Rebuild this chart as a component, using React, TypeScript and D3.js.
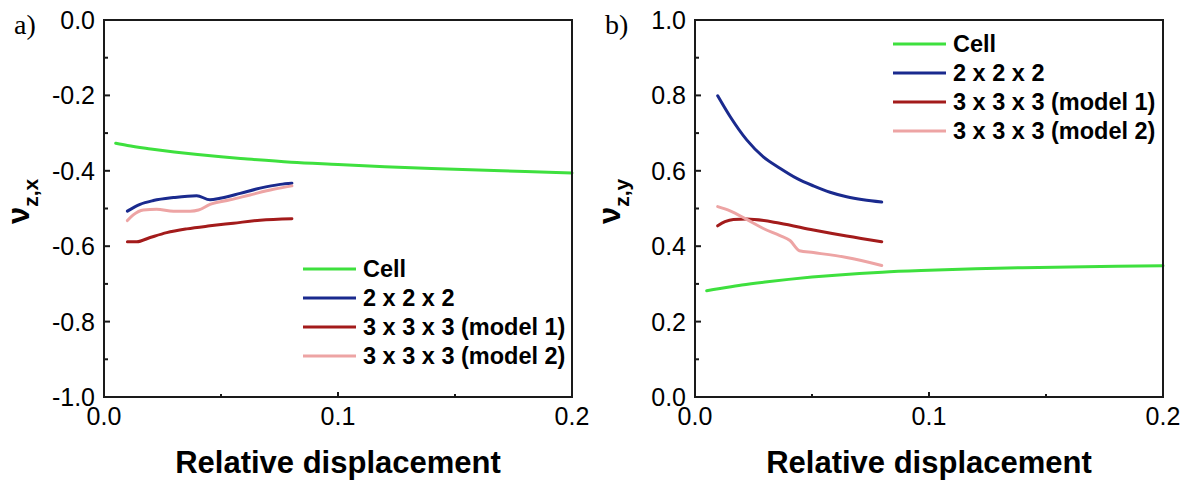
import React from 'react';
import * as d3 from 'd3';

// series: [relative displacement, poisson ratio]
const seriesNames = ['Cell', '2 x 2 x 2', '3 x 3 x 3 (model 1)', '3 x 3 x 3 (model 2)'];
const seriesColors = ['#3ee03e', '#1a2a8e', '#a31b1b', '#eda4a4'];

const cellZX: [number, number][] = [
  [0.005, -0.327], [0.01, -0.333], [0.02, -0.342], [0.03, -0.350], [0.04, -0.357],
  [0.05, -0.363], [0.06, -0.368], [0.08, -0.377], [0.1, -0.383], [0.12, -0.389],
  [0.14, -0.394], [0.16, -0.398], [0.18, -0.402], [0.2, -0.406],
];
const cube2ZX: [number, number][] = [
  [0.010, -0.507], [0.0154, -0.489], [0.0211, -0.479], [0.0297, -0.471], [0.0396, -0.466],
  [0.0453, -0.477], [0.0496, -0.473], [0.0582, -0.460], [0.0667, -0.446], [0.0753, -0.436],
  [0.0803, -0.433],
];
const cube3m1ZX: [number, number][] = [
  [0.010, -0.588], [0.014, -0.588], [0.0197, -0.577], [0.0268, -0.564], [0.0354, -0.554],
  [0.0453, -0.546], [0.0553, -0.539], [0.0667, -0.531], [0.0803, -0.527],
];
const cube3m2ZX: [number, number][] = [
  [0.010, -0.532], [0.0125, -0.517], [0.0168, -0.504], [0.0225, -0.502], [0.0297, -0.507],
  [0.0368, -0.507], [0.0404, -0.504], [0.0453, -0.489], [0.0539, -0.477], [0.0624, -0.464],
  [0.0724, -0.449], [0.0803, -0.440],
];

const cellZY: [number, number][] = [
  [0.005, 0.282], [0.01, 0.287], [0.02, 0.297], [0.03, 0.305], [0.04, 0.312],
  [0.05, 0.318], [0.06, 0.323], [0.08, 0.331], [0.1, 0.336], [0.12, 0.340],
  [0.14, 0.343], [0.16, 0.345], [0.18, 0.347], [0.2, 0.348],
];
const cube2ZY: [number, number][] = [
  [0.0097, 0.799], [0.015, 0.744], [0.0221, 0.682], [0.0292, 0.637], [0.0363, 0.607],
  [0.0435, 0.580], [0.0506, 0.560], [0.0577, 0.543], [0.0648, 0.531], [0.0719, 0.523],
  [0.0798, 0.517],
];
const cube3m1ZY: [number, number][] = [
  [0.0097, 0.454], [0.0128, 0.465], [0.0164, 0.471], [0.0221, 0.472], [0.0363, 0.461],
  [0.0506, 0.443], [0.0648, 0.427], [0.0798, 0.412],
];
const cube3m2ZY: [number, number][] = [
  [0.0097, 0.505], [0.015, 0.494], [0.0221, 0.471], [0.0292, 0.447], [0.0363, 0.428],
  [0.0406, 0.415], [0.0446, 0.388], [0.0506, 0.383], [0.0648, 0.370], [0.0798, 0.349],
];

const xTicks = [0, 0.1, 0.2];
const xMinor = [0.05, 0.15];
const yTicksA = [0, -0.2, -0.4, -0.6, -0.8, -1.0];
const yTicksB = [0, 0.2, 0.4, 0.6, 0.8, 1.0];

const FONT = '"Liberation Sans", Arial, sans-serif';

type PanelProps = {
  left: number;
  tag: string;
  yDomain: [number, number];
  yTicks: number[];
  sub: string;
  series: [number, number][][];
  legendX: number;
  legendY: number;
};

function Panel({ left, tag, yDomain, yTicks, sub, series, legendX, legendY }: PanelProps) {
  const top = 20;
  const bottom = 397;
  const right = left + 468;
  const x = d3.scaleLinear().domain([0, 0.2]).range([left, right]);
  const y = d3.scaleLinear().domain(yDomain).range([bottom, top]);
  const line = d3.line<[number, number]>()
    .x(d => x(d[0]))
    .y(d => y(d[1]))
    .curve(d3.curveMonotoneX);
  const minorY = d3.range(yDomain[0] + 0.1, yDomain[1], 0.2);

  return (
    <g>
      <text x={left - 90} y={34} fontFamily='"Liberation Serif", serif' fontSize={28}>{tag}</text>
      {series.map((s, i) => (
        <path key={i} d={line(s) || ''} fill="none" stroke={seriesColors[i]} strokeWidth={3}
          strokeLinejoin="round" strokeLinecap="round" />
      ))}
      <rect x={left} y={top} width={right - left} height={bottom - top} fill="none" stroke="#1a1a1a" strokeWidth={2} />
      {yTicks.map(t => (
        <g key={t}>
          <line x1={left} x2={left + 6} y1={y(t)} y2={y(t)} stroke="#1a1a1a" strokeWidth={2} />
          <text x={left - 9} y={y(t) + 9} textAnchor="end" fontFamily={FONT} fontSize={25}>{t.toFixed(1)}</text>
        </g>
      ))}
      {minorY.map(t => (
        <line key={t} x1={left} x2={left + 4} y1={y(t)} y2={y(t)} stroke="#1a1a1a" strokeWidth={2} />
      ))}
      {xTicks.map(t => (
        <g key={t}>
          <line x1={x(t)} x2={x(t)} y1={bottom} y2={bottom - 5} stroke="#1a1a1a" strokeWidth={2} />
          <text x={x(t)} y={425} textAnchor="middle" fontFamily={FONT} fontSize={25}>{t.toFixed(1)}</text>
        </g>
      ))}
      {xMinor.map(t => (
        <line key={t} x1={x(t)} x2={x(t)} y1={bottom} y2={bottom - 3} stroke="#1a1a1a" strokeWidth={2} />
      ))}
      <text x={(left + right) / 2} y={473} textAnchor="middle" fontFamily={FONT} fontSize={31} fontWeight="bold">
        Relative displacement
      </text>
      <text transform="rotate(-90)" x={-224} y={left - 75} fontFamily={FONT} fontWeight="bold">
        <tspan fontSize={31}>ν</tspan>
        <tspan fontSize={21} dy={9}>{sub}</tspan>
      </text>
      {seriesNames.map((n, i) => {
        const ly = legendY + i * 29;
        return (
          <g key={n}>
            <line x1={legendX} x2={legendX + 53} y1={ly} y2={ly} stroke={seriesColors[i]} strokeWidth={3} />
            <text x={legendX + 60} y={ly + 8} fontFamily={FONT} fontSize={23.5} fontWeight="bold">{n}</text>
          </g>
        );
      })}
    </g>
  );
}

export default function App() {
  return (
    <svg width={1189} height={481} style={{ position: 'absolute', left: 0, top: 0, background: '#fff' }}>
      <Panel left={104} tag="a)" yDomain={[-1, 0]} yTicks={yTicksA} sub="z,x"
        series={[cellZX, cube2ZX, cube3m1ZX, cube3m2ZX]} legendX={303} legendY={269} />
      <Panel left={695} tag="b)" yDomain={[0, 1]} yTicks={yTicksB} sub="z,y"
        series={[cellZY, cube2ZY, cube3m1ZY, cube3m2ZY]} legendX={893} legendY={44} />
    </svg>
  );
}
